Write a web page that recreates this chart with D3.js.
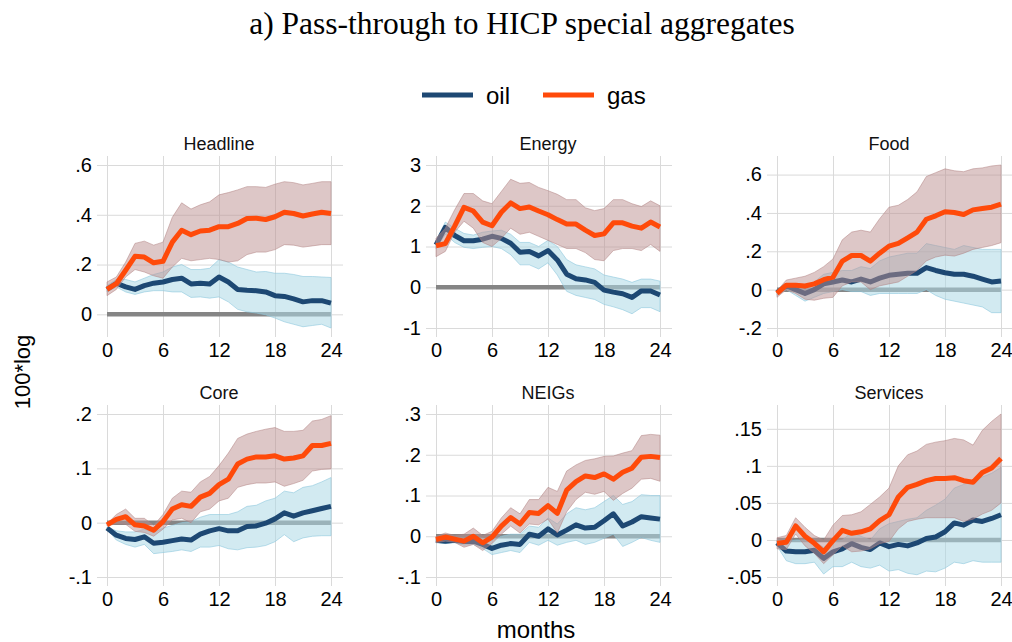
<!DOCTYPE html>
<html>
<head>
<meta charset="utf-8">
<script src="https://cdn.jsdelivr.net/npm/d3@7"></script>
<style>
  html, body { margin: 0; padding: 0; background: #fff; }
  svg { display: block; }
</style>
</head>
<body>
<script>
// Horizon in months
const months = [0,1,2,3,4,5,6,7,8,9,10,11,12,13,14,15,16,17,18,19,20,21,22,23,24];
const monthTicks = [0, 6, 12, 18, 24];

// Headline
const headlineOil   = [0.10,0.125,0.11,0.10,0.115,0.125,0.13,0.14,0.145,0.122,0.125,0.122,0.15,0.13,0.10,0.097,0.095,0.09,0.075,0.072,0.062,0.05,0.055,0.055,0.045];
const headlineOilLo = [0.09,0.11,0.09,0.08,0.09,0.095,0.095,0.09,0.09,0.068,0.07,0.065,0.07,0.05,0.02,0.01,0.005,-0.002,-0.015,-0.03,-0.04,-0.05,-0.045,-0.04,-0.055];
const headlineOilHi = [0.115,0.14,0.14,0.13,0.145,0.16,0.17,0.19,0.20,0.18,0.18,0.185,0.22,0.21,0.19,0.18,0.17,0.172,0.165,0.165,0.16,0.152,0.152,0.15,0.148];
const headlineGas   = [0.10,0.123,0.177,0.233,0.23,0.207,0.213,0.29,0.338,0.32,0.335,0.338,0.352,0.352,0.365,0.385,0.386,0.381,0.392,0.41,0.405,0.395,0.403,0.41,0.405];
const headlineGasLo = [0.075,0.10,0.15,0.18,0.17,0.155,0.145,0.19,0.225,0.215,0.22,0.225,0.22,0.21,0.215,0.24,0.25,0.25,0.26,0.28,0.278,0.27,0.275,0.28,0.28];
const headlineGasHi = [0.13,0.15,0.21,0.285,0.294,0.278,0.29,0.39,0.448,0.423,0.44,0.452,0.48,0.489,0.50,0.513,0.513,0.51,0.523,0.533,0.529,0.52,0.526,0.533,0.533];
const headlineTicks  = [0, 0.2, 0.4, 0.6];
const headlineLabels = ["0", ".2", ".4", ".6"];

// Energy
const energyOil   = [1.04,1.47,1.27,1.14,1.14,1.18,1.25,1.2,1.08,0.86,0.88,0.77,0.9,0.67,0.32,0.21,0.18,0.12,-0.07,-0.12,-0.16,-0.25,-0.09,-0.09,-0.19];
const energyOilLo = [0.95,1.3,1.1,0.98,0.95,0.98,1.0,0.95,0.8,0.55,0.55,0.45,0.6,0.3,-0.1,-0.2,-0.25,-0.3,-0.42,-0.48,-0.55,-0.65,-0.5,-0.5,-0.6];
const energyOilHi = [1.15,1.6,1.45,1.32,1.28,1.35,1.38,1.4,1.3,1.1,1.1,1.0,1.15,1.0,0.68,0.55,0.5,0.45,0.3,0.25,0.2,0.12,0.2,0.2,0.15];
const energyGas   = [1.02,1.07,1.5,1.96,1.87,1.6,1.51,1.84,2.07,1.93,1.97,1.87,1.78,1.66,1.55,1.55,1.4,1.27,1.31,1.58,1.58,1.5,1.45,1.6,1.48];
const energyGasLo = [0.75,0.88,1.35,1.62,1.45,1.1,1.0,1.2,1.45,1.3,1.35,1.25,1.15,1.05,0.95,0.95,0.85,0.68,0.65,0.9,0.95,0.95,0.9,1.05,0.88];
const energyGasHi = [1.2,1.45,1.9,2.3,2.3,2.12,2.05,2.35,2.65,2.55,2.57,2.45,2.37,2.28,2.15,2.15,1.95,1.88,1.93,2.15,2.15,2.05,1.98,2.12,2.0];
const energyTicks  = [-1, 0, 1, 2, 3];
const energyLabels = ["-1", "0", "1", "2", "3"];

// Food
const foodOil   = [-0.015,0.02,0.0,-0.02,0.0,0.03,0.04,0.05,0.04,0.055,0.04,0.06,0.075,0.08,0.085,0.085,0.115,0.10,0.088,0.08,0.08,0.07,0.055,0.04,0.045];
const foodOilLo = [-0.03,0.0,-0.03,-0.06,-0.04,-0.02,-0.01,0.0,-0.01,-0.01,-0.03,-0.02,-0.02,-0.02,-0.02,-0.02,0.0,-0.03,-0.05,-0.06,-0.07,-0.08,-0.09,-0.12,-0.12];
const foodOilHi = [0.0,0.03,0.02,0.0,0.04,0.08,0.09,0.10,0.10,0.12,0.11,0.15,0.17,0.18,0.19,0.19,0.24,0.23,0.22,0.21,0.23,0.22,0.21,0.21,0.21];
const foodGas   = [-0.02,0.023,0.023,0.019,0.03,0.052,0.065,0.149,0.178,0.178,0.149,0.19,0.227,0.241,0.27,0.30,0.367,0.385,0.406,0.402,0.392,0.416,0.423,0.43,0.446];
const foodGasLo = [-0.04,0.0,-0.02,-0.05,-0.055,-0.045,-0.04,0.02,0.04,0.04,0.0,0.02,0.03,0.04,0.07,0.10,0.15,0.17,0.18,0.175,0.19,0.21,0.22,0.23,0.245];
const foodGasHi = [-0.005,0.05,0.06,0.07,0.09,0.12,0.16,0.26,0.30,0.31,0.30,0.37,0.43,0.44,0.47,0.51,0.59,0.61,0.63,0.62,0.615,0.63,0.635,0.645,0.65];
const foodTicks  = [-0.2, 0, 0.2, 0.4, 0.6];
const foodLabels = ["-.2", "0", ".2", ".4", ".6"];

// Core
const coreOil   = [-0.01,-0.023,-0.029,-0.031,-0.026,-0.038,-0.036,-0.033,-0.03,-0.032,-0.021,-0.015,-0.011,-0.015,-0.015,-0.007,-0.006,-0.001,0.007,0.018,0.012,0.018,0.022,0.026,0.03];
const coreOilLo = [-0.012,-0.032,-0.04,-0.045,-0.04,-0.057,-0.055,-0.053,-0.05,-0.053,-0.045,-0.045,-0.042,-0.048,-0.05,-0.046,-0.045,-0.042,-0.035,-0.022,-0.035,-0.028,-0.025,-0.024,-0.024];
const coreOilHi = [-0.008,-0.015,-0.017,-0.017,-0.012,-0.018,-0.01,-0.005,0.0,0.002,0.01,0.015,0.015,0.015,0.02,0.03,0.032,0.04,0.045,0.058,0.055,0.065,0.068,0.075,0.083];
const coreGas   = [-0.004,0.006,0.011,-0.004,-0.006,-0.014,0.002,0.025,0.033,0.03,0.047,0.054,0.07,0.08,0.108,0.117,0.121,0.121,0.123,0.117,0.119,0.123,0.142,0.142,0.146];
const coreGasLo = [-0.006,-0.002,-0.003,-0.016,-0.018,-0.025,-0.012,0.005,0.008,0.0,0.02,0.025,0.04,0.045,0.065,0.07,0.073,0.073,0.075,0.067,0.072,0.078,0.095,0.098,0.099];
const coreGasHi = [-0.002,0.015,0.025,0.008,0.008,-0.005,0.015,0.045,0.058,0.056,0.075,0.085,0.105,0.128,0.155,0.163,0.168,0.172,0.175,0.168,0.168,0.17,0.187,0.19,0.197];
const coreTicks  = [-0.1, 0, 0.1, 0.2];
const coreLabels = ["-.1", "0", ".1", ".2"];

// NEIGs
const neigsOil   = [-0.01,-0.012,-0.01,-0.013,-0.012,-0.02,-0.03,-0.022,-0.018,-0.02,0.005,0.0,0.018,0.003,0.015,0.028,0.02,0.022,0.038,0.055,0.025,0.035,0.048,0.045,0.042];
const neigsOilLo = [-0.016,-0.018,-0.016,-0.022,-0.02,-0.03,-0.045,-0.04,-0.035,-0.04,-0.015,-0.022,-0.01,-0.022,-0.015,-0.01,-0.02,-0.015,-0.005,0.005,-0.025,-0.015,-0.003,-0.01,-0.015];
const neigsOilHi = [-0.005,-0.006,-0.003,-0.005,-0.002,-0.005,-0.01,0.0,0.005,0.005,0.025,0.022,0.045,0.03,0.055,0.07,0.065,0.07,0.085,0.10,0.078,0.085,0.102,0.10,0.10];
const neigsGas   = [-0.008,-0.002,-0.007,-0.012,0.0,-0.016,-0.002,0.025,0.046,0.03,0.058,0.056,0.075,0.056,0.113,0.134,0.148,0.144,0.153,0.14,0.157,0.167,0.194,0.196,0.193];
const neigsGasLo = [-0.016,-0.012,-0.015,-0.027,-0.02,-0.035,-0.018,0.005,0.025,0.008,0.03,0.028,0.042,0.008,0.06,0.09,0.108,0.103,0.11,0.088,0.105,0.118,0.14,0.142,0.135];
const neigsGasHi = [0.0,0.008,0.002,0.005,0.02,0.002,0.012,0.045,0.07,0.055,0.09,0.09,0.12,0.11,0.16,0.175,0.186,0.19,0.196,0.197,0.204,0.21,0.247,0.25,0.248];
const neigsTicks  = [-0.1, 0, 0.1, 0.2, 0.3];
const neigsLabels = ["-.1", "0", ".1", ".2", ".3"];

// Services
const servicesOil   = [-0.004,-0.015,-0.016,-0.016,-0.014,-0.025,-0.016,-0.012,-0.005,-0.01,-0.013,-0.004,-0.009,-0.006,-0.008,-0.004,0.002,0.004,0.011,0.023,0.02,0.027,0.025,0.029,0.034];
const servicesOilLo = [-0.008,-0.028,-0.032,-0.032,-0.03,-0.046,-0.036,-0.036,-0.03,-0.036,-0.038,-0.034,-0.042,-0.04,-0.045,-0.047,-0.042,-0.043,-0.038,-0.03,-0.032,-0.028,-0.03,-0.03,-0.03];
const servicesOilHi = [0.0,-0.002,0.0,0.0,-0.002,-0.01,-0.002,0.0,0.01,0.005,0.0,0.015,0.022,0.025,0.028,0.03,0.04,0.047,0.055,0.07,0.075,0.08,0.085,0.09,0.098];
const servicesGas   = [-0.0045,-0.003,0.019,0.005,-0.0045,-0.016,-0.001,0.013,0.009,0.011,0.015,0.026,0.034,0.058,0.071,0.075,0.08,0.083,0.083,0.084,0.08,0.078,0.091,0.097,0.11];
const servicesGasLo = [-0.012,-0.013,0.008,-0.008,-0.018,-0.032,-0.02,-0.008,-0.016,-0.015,-0.012,-0.005,-0.002,0.015,0.025,0.028,0.03,0.03,0.03,0.03,0.025,0.028,0.035,0.04,0.05];
const servicesGasHi = [0.003,0.006,0.03,0.017,0.006,0.0,0.02,0.033,0.034,0.038,0.048,0.058,0.07,0.10,0.115,0.12,0.129,0.132,0.134,0.137,0.135,0.128,0.148,0.16,0.17];
const servicesTicks  = [-0.05, 0, 0.05, 0.1, 0.15];
const servicesLabels = ["-.05", "0", ".05", ".1", ".15"];

const panels = [
  { title: "Headline", row: 0, col: 0, oil: headlineOil, oilLo: headlineOilLo, oilHi: headlineOilHi, gas: headlineGas, gasLo: headlineGasLo, gasHi: headlineGasHi, ticks: headlineTicks, labels: headlineLabels },
  { title: "Energy",   row: 0, col: 1, oil: energyOil,   oilLo: energyOilLo,   oilHi: energyOilHi,   gas: energyGas,   gasLo: energyGasLo,   gasHi: energyGasHi,   ticks: energyTicks,   labels: energyLabels },
  { title: "Food",     row: 0, col: 2, oil: foodOil,     oilLo: foodOilLo,     oilHi: foodOilHi,     gas: foodGas,     gasLo: foodGasLo,     gasHi: foodGasHi,     ticks: foodTicks,     labels: foodLabels },
  { title: "Core",     row: 1, col: 0, oil: coreOil,     oilLo: coreOilLo,     oilHi: coreOilHi,     gas: coreGas,     gasLo: coreGasLo,     gasHi: coreGasHi,     ticks: coreTicks,     labels: coreLabels },
  { title: "NEIGs",    row: 1, col: 1, oil: neigsOil,    oilLo: neigsOilLo,    oilHi: neigsOilHi,    gas: neigsGas,    gasLo: neigsGasLo,    gasHi: neigsGasHi,    ticks: neigsTicks,    labels: neigsLabels },
  { title: "Services", row: 1, col: 2, oil: servicesOil, oilLo: servicesOilLo, oilHi: servicesOilHi, gas: servicesGas, gasLo: servicesGasLo, gasHi: servicesGasHi, ticks: servicesTicks, labels: servicesLabels }
];

const seriesNames = ["oil", "gas"];

// Styling
const W = 1012, H = 642;
const SANS = "'Liberation Sans', Arial, Helvetica, sans-serif";
const OIL = "#1d4873";
const GAS = "#ff4a0a";
const OIL_BAND = "#add8e6";
const GAS_BAND = "#bc8f8f";
const GRID = "#dadada";
const ZERO = "#858585";

// Layout of the 3x2 grid of panels
const colX0 = [107, 436, 777];   // pixel of month 0 in each column
const rowTop = [156, 405];       // top of the plot region in each row
const plotW = 224;               // month 0 -> month 24
const plotH = 181;
const padY = 9;
const gridLeft = 10, gridRight = 12;

const svg = d3.select("body").append("svg")
  .attr("width", W).attr("height", H);
svg.append("rect").attr("width", W).attr("height", H).attr("fill", "#fff");

// Main title
svg.append("text")
  .attr("x", 522).attr("y", 34)
  .attr("text-anchor", "middle")
  .attr("font-family", "'Liberation Serif', 'Times New Roman', serif")
  .attr("font-size", 31.5)
  .attr("fill", "#000")
  .text("a) Pass-through to HICP special aggregates");

// Legend
const legend = svg.append("g");
const legendItems = [
  { name: seriesNames[0], color: OIL, x1: 422, x2: 473, tx: 486 },
  { name: seriesNames[1], color: GAS, x1: 543, x2: 594, tx: 607 }
];
legendItems.forEach(d => {
  legend.append("line")
    .attr("x1", d.x1).attr("x2", d.x2).attr("y1", 95).attr("y2", 95)
    .attr("stroke", d.color).attr("stroke-width", 5);
  legend.append("text")
    .attr("x", d.tx).attr("y", 104)
    .attr("font-family", SANS).attr("font-size", 24).attr("fill", "#000")
    .text(d.name);
});

// Shared axis titles
svg.append("text")
  .attr("transform", "translate(30,372) rotate(-90)")
  .attr("text-anchor", "middle")
  .attr("font-family", SANS).attr("font-size", 22).attr("fill", "#000")
  .text("100*log");

svg.append("text")
  .attr("x", 536).attr("y", 638)
  .attr("text-anchor", "middle")
  .attr("font-family", SANS).attr("font-size", 24).attr("fill", "#000")
  .text("months");

panels.forEach(p => {
  const x0 = colX0[p.col];
  const top = rowTop[p.row];
  const bottom = top + plotH;

  const x = d3.scaleLinear().domain([0, 24]).range([x0, x0 + plotW]);
  const ext = d3.extent([].concat(p.ticks, p.oilLo, p.oilHi, p.gasLo, p.gasHi, p.oil, p.gas));
  const y = d3.scaleLinear().domain(ext).range([bottom - padY, top + padY]);

  const g = svg.append("g");

  // Horizontal grid + y tick labels
  const yAxis = g.append("g")
    .attr("transform", `translate(${x0 - gridLeft},0)`)
    .call(d3.axisLeft(y)
      .tickValues(p.ticks)
      .tickFormat((d, i) => p.labels[i])
      .tickSize(-(plotW + gridLeft + gridRight))
      .tickPadding(5));
  yAxis.select(".domain").remove();
  yAxis.selectAll(".tick line").attr("stroke", GRID).attr("stroke-width", 1);
  yAxis.selectAll(".tick text")
    .attr("font-family", SANS).attr("font-size", 20).attr("fill", "#000");

  // Vertical grid + x tick labels
  const xAxis = g.append("g")
    .attr("transform", `translate(0,${bottom})`)
    .call(d3.axisBottom(x)
      .tickValues(monthTicks)
      .tickFormat(d3.format("d"))
      .tickSize(-plotH)
      .tickPadding(6));
  xAxis.select(".domain").remove();
  xAxis.selectAll(".tick line").attr("stroke", GRID).attr("stroke-width", 1);
  xAxis.selectAll(".tick text")
    .attr("font-family", SANS).attr("font-size", 20).attr("fill", "#000");

  // Panel title
  g.append("text")
    .attr("x", x0 + plotW / 2).attr("y", top - 6)
    .attr("text-anchor", "middle")
    .attr("font-family", SANS).attr("font-size", 18).attr("fill", "#111")
    .text(p.title);

  // Zero reference line
  g.append("line")
    .attr("x1", x(0)).attr("x2", x(24))
    .attr("y1", y(0)).attr("y2", y(0))
    .attr("stroke", ZERO).attr("stroke-width", 4.5);

  const area = (lo, hi) => d3.area()
    .x((d, i) => x(months[i]))
    .y0((d, i) => y(lo[i]))
    .y1((d, i) => y(hi[i]))(months);
  const line = vals => d3.line()
    .x((d, i) => x(months[i]))
    .y((d, i) => y(vals[i]))(months);

  // Oil: confidence band then response
  g.append("path").attr("d", area(p.oilLo, p.oilHi))
    .attr("fill", OIL_BAND).attr("fill-opacity", 0.55)
    .attr("stroke", "#8ec8dd").attr("stroke-opacity", 0.6).attr("stroke-width", 1);
  g.append("path").attr("d", line(p.oil))
    .attr("fill", "none").attr("stroke", OIL).attr("stroke-width", 5)
    .attr("stroke-linejoin", "round");

  // Gas: confidence band then response
  g.append("path").attr("d", area(p.gasLo, p.gasHi))
    .attr("fill", GAS_BAND).attr("fill-opacity", 0.5)
    .attr("stroke", "#b08080").attr("stroke-opacity", 0.5).attr("stroke-width", 1);
  g.append("path").attr("d", line(p.gas))
    .attr("fill", "none").attr("stroke", GAS).attr("stroke-width", 5)
    .attr("stroke-linejoin", "round");
});
</script>
</body>
</html>
